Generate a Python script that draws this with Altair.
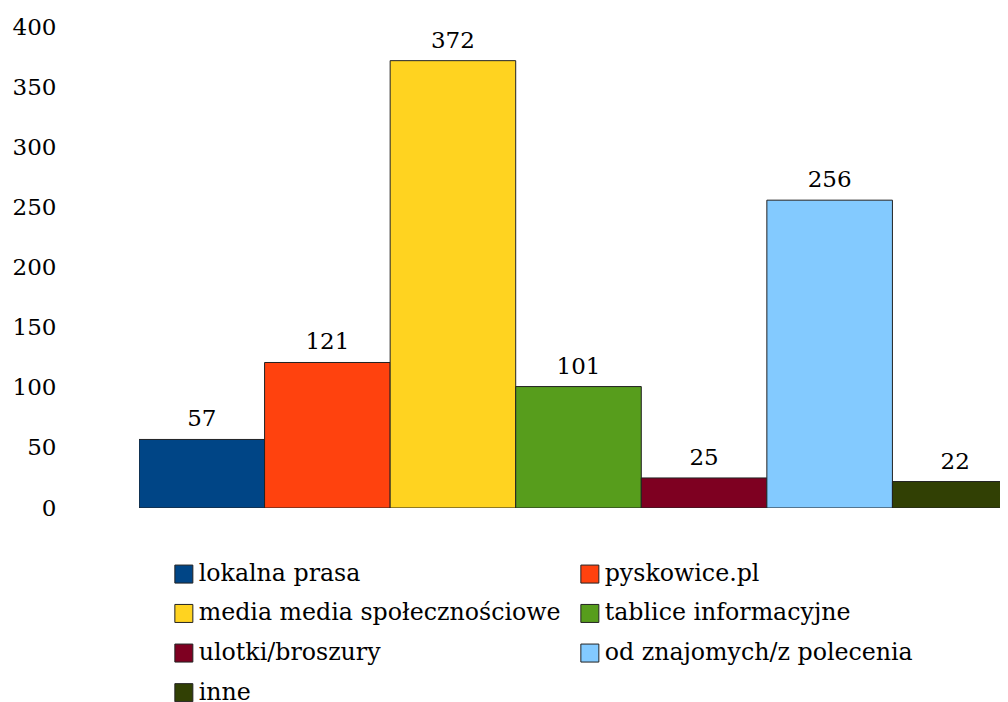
import altair as alt
import pandas as pd

categories = ["lokalna prasa", "pyskowice.pl", "media media społecznościowe",
              "tablice informacyjne", "ulotki/broszury", "od znajomych/z polecenia", "inne"]
values = [57, 121, 372, 101, 25, 256, 22]
colors = ["#004586", "#ff420e", "#ffd320", "#579d1c", "#7e0021", "#83caff", "#314004"]
y_ticks = [0, 50, 100, 150, 200, 250, 300, 350, 400]

# legend is filled column by column: order so it reads row by row like the reference
legend_order = [0, 2, 4, 6, 1, 3, 5]
legend_domain = [categories[i] for i in legend_order]
legend_range = [colors[i] for i in legend_order]

df = pd.DataFrame({"cat": categories, "val": values})

FONT = "DejaVu Serif"

x_enc = alt.X("cat:N", sort=categories,
              scale=alt.Scale(range=[0, 879], paddingInner=0, paddingOuter=0),
              axis=None)
y_enc = alt.Y("val:Q", scale=alt.Scale(domain=[0, 400], nice=False),
              axis=alt.Axis(values=y_ticks, domain=False, ticks=False, grid=False,
                            labelPadding=83, labelFont=FONT, labelFontSize=23,
                            labelColor="black", title=None))

base = alt.Chart(df)

bars = base.mark_bar(stroke="#222222", strokeWidth=1, clip=True).encode(
    x=x_enc,
    y=y_enc,
    color=alt.Color("cat:N",
                    scale=alt.Scale(domain=legend_domain, range=legend_range),
                    legend=alt.Legend(orient="none", legendX=33, legendY=535,
                                      columns=2, title=None, symbolType="square",
                                      symbolSize=324, symbolStrokeColor="#222222",
                                      symbolStrokeWidth=1, labelFont=FONT,
                                      labelFontSize=23.7, labelColor="black",
                                      labelOffset=3, columnPadding=17, rowPadding=14.6,
                                      labelLimit=0, padding=0)),
)

labels = base.mark_text(baseline="alphabetic", dy=-13, font=FONT, fontSize=23,
                        color="black").encode(
    x=x_enc,
    y=alt.Y("val:Q"),
    text=alt.Text("val:Q"),
)

chart = (bars + labels).properties(
    width=861, height=481,
    background="white",
    autosize=alt.AutoSizeParams(type="none"),
    padding={"left": 131, "top": 19, "right": 0, "bottom": 194},
).configure_view(stroke=None)

chart.save("out.html", embed_options={"renderer": "svg", "actions": False})
